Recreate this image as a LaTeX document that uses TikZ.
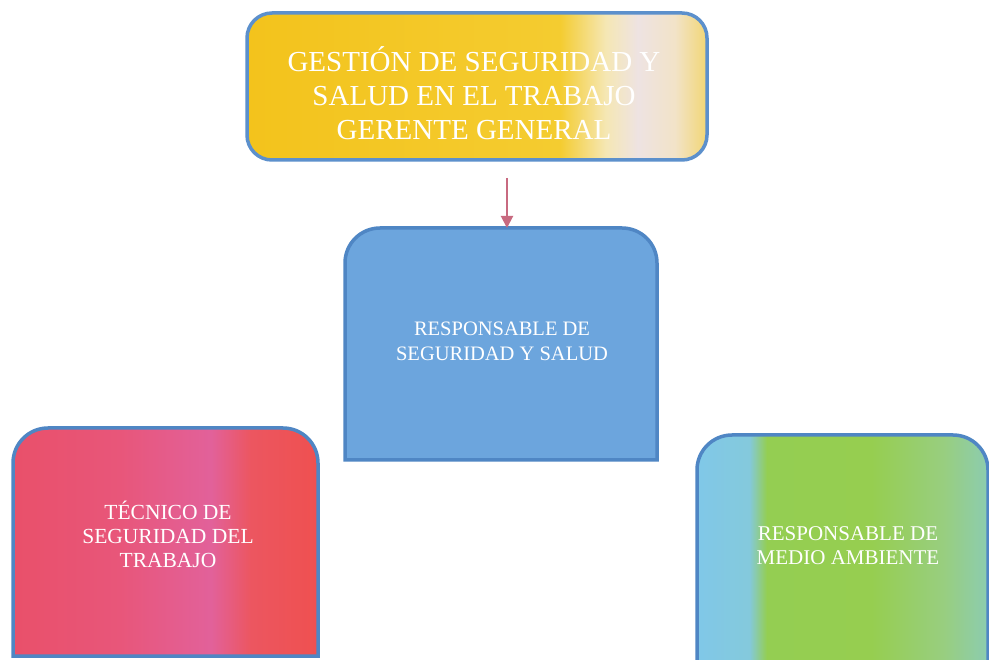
\documentclass[tikz,border=0pt]{standalone}
\usepackage{fontspec}
\setmainfont{Liberation Serif}
\usetikzlibrary{arrows.meta}
\definecolor{ya}{HTML}{F3C31C}
\definecolor{yb}{HTML}{F4CC30}
\definecolor{yc}{HTML}{F5E7B4}
\definecolor{yd}{HTML}{EEE3E2}
\definecolor{ye}{HTML}{F2E3C8}
\definecolor{yf}{HTML}{F2D674}
\definecolor{ra}{HTML}{E9506A}
\definecolor{rb}{HTML}{E8567A}
\definecolor{rc}{HTML}{E2619A}
\definecolor{rd}{HTML}{EC5660}
\definecolor{re}{HTML}{EF5050}
\definecolor{ga}{HTML}{80C8E8}
\definecolor{gb}{HTML}{84C9DC}
\definecolor{gc}{HTML}{94CE52}
\definecolor{gd}{HTML}{96CE50}
\definecolor{ge}{HTML}{98CE80}
\definecolor{gf}{HTML}{8CCCB0}
\definecolor{midblue}{HTML}{6CA5DD}
\definecolor{edgeA}{HTML}{5C90CC}
\definecolor{edgeB}{HTML}{4F86C4}
\definecolor{arrowc}{HTML}{C86A80}
\pgfdeclarehorizontalshading{yellowsh}{100bp}{color(0bp)=(ya); color(25bp)=(ya); color(59bp)=(yb); color(64bp)=(yc); color(67.5bp)=(yd); color(71.5bp)=(ye); color(75bp)=(yf); color(100bp)=(yf)}
\pgfdeclarehorizontalshading{redsh}{100bp}{color(0bp)=(ra); color(25bp)=(ra); color(42.5bp)=(rb); color(57.5bp)=(rc); color(64bp)=(rd); color(75bp)=(re); color(100bp)=(re)}
\pgfdeclarehorizontalshading{greensh}{100bp}{color(0bp)=(ga); color(25bp)=(ga); color(34bp)=(gb); color(37bp)=(gc); color(55bp)=(gd); color(67.5bp)=(ge); color(75bp)=(gf); color(100bp)=(gf)}
\tikzset{
  boxbase/.style={inner sep=0pt, outer sep=0pt},
  lbl/.style={inner sep=0pt, align=center, text=white},
  edge line/.style={line width=3.5pt, draw=edgeB},
  conn/.style={draw=arrowc, line width=2pt, -{Triangle[length=12pt,width=12pt]}}
}
\begin{document}
\begin{tikzpicture}[x=1pt,y=-1pt]
\useasboundingbox (0,0) rectangle (989,660);
\clip (0,0) rectangle (989,660);
\fill[white] (0,0) rectangle (989,660);
% top box
\node[boxbase, minimum width=460pt, minimum height=147pt, draw=edgeA, line width=3.5pt, rounded corners=25pt, shading=yellowsh] (gest) at (477,86.5) {};
\node[lbl, font=\fontsize{29}{34}\selectfont] (gestt) at (474,93) {GESTIÓN DE SEGURIDAD Y\\SALUD EN EL TRABAJO\\GERENTE GENERAL};
% middle box
\node[boxbase, minimum width=312pt, minimum height=232pt] (mid) at (501,344) {};
\draw[edge line, fill=midblue] (mid.south west) -- ([yshift=-35pt]mid.north west) arc[start angle=180,end angle=90,radius=35pt] -- ([xshift=-35pt]mid.north east) arc[start angle=90,end angle=0,radius=35pt] -- (mid.south east) -- cycle;
\node[lbl, font=\fontsize{20.5}{25}\selectfont] (midt) at (502,341) {RESPONSABLE DE\\SEGURIDAD Y SALUD};
% left box
\node[boxbase, minimum width=305pt, minimum height=228pt] (tec) at (165.5,542) {};
\draw[edge line, shading=redsh] (tec.south west) -- ([yshift=-35pt]tec.north west) arc[start angle=180,end angle=90,radius=35pt] -- ([xshift=-35pt]tec.north east) arc[start angle=90,end angle=0,radius=35pt] -- (tec.south east) -- cycle;
\node[lbl, font=\fontsize{21.5}{24}\selectfont] (tect) at (168,534) {TÉCNICO DE\\SEGURIDAD DEL\\TRABAJO};
% right box
\node[boxbase, minimum width=291pt, minimum height=240pt] (amb) at (842.5,555) {};
\draw[edge line, shading=greensh] (amb.south west) -- ([yshift=-35pt]amb.north west) arc[start angle=180,end angle=90,radius=35pt] -- ([xshift=-35pt]amb.north east) arc[start angle=90,end angle=0,radius=35pt] -- (amb.south east) -- cycle;
\node[lbl, font=\fontsize{21}{24}\selectfont] (ambt) at (848,546) {RESPONSABLE DE\\MEDIO AMBIENTE};
% connector
\coordinate (astart) at (507,178);
\draw[conn] (astart) -- (astart |- mid.north);
\end{tikzpicture}
\end{document}
